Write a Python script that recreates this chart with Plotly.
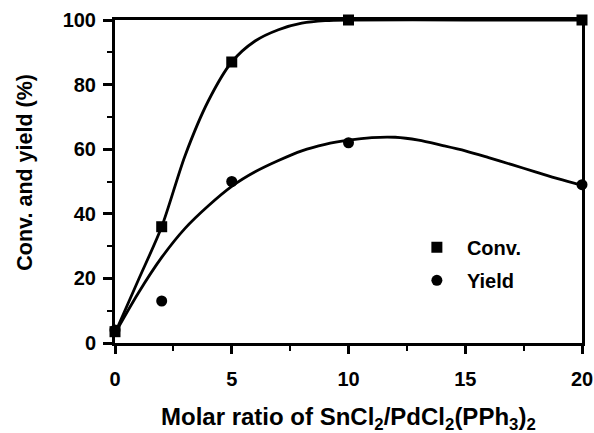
import plotly.graph_objects as go

# measured data points
ratio = [0, 2, 5, 10, 20]
conv = [3.5, 36, 87, 100, 100]
yield_pct = [4, 13, 50, 62, 49]

# fitted curves
conv_curve_x = [0, 1, 2, 3, 4, 5, 6, 7, 8, 9, 10, 15, 20]
conv_curve_y = [3, 19.5, 36, 58, 75, 87, 93.5, 97, 99, 99.8, 100, 100, 100]
yield_curve_x = [0, 1, 2, 3, 4, 5, 6, 7, 8, 9, 10, 11, 12, 13, 14, 15, 16, 17, 18, 19, 20]
yield_curve_y = [3, 15.5, 26.5, 35.5, 42.5, 48.5, 53, 56.5, 59.5, 61.5, 62.8, 63.6, 63.7,
                 62.8, 61.2, 59.5, 57.4, 55.2, 53, 50.8, 48.8]

x_ticks = [0, 5, 10, 15, 20]
y_ticks = [0, 20, 40, 60, 80, 100]

FONT = "Liberation Sans, Arial, Helvetica, sans-serif"

fig = go.Figure()
fig.add_trace(go.Scatter(x=conv_curve_x, y=conv_curve_y, mode="lines",
                         line=dict(color="black", width=2.8, shape="spline", smoothing=0.8),
                         showlegend=False, cliponaxis=False, hoverinfo="skip"))
fig.add_trace(go.Scatter(x=yield_curve_x, y=yield_curve_y, mode="lines",
                         line=dict(color="black", width=2.8, shape="spline", smoothing=0.8),
                         showlegend=False, cliponaxis=False, hoverinfo="skip"))
fig.add_trace(go.Scatter(x=ratio, y=conv, mode="markers", name="Conv.",
                         legendgroup="a",
                         marker=dict(symbol="square", size=11, color="black"),
                         cliponaxis=False))
fig.add_trace(go.Scatter(x=ratio, y=yield_pct, mode="markers", name="Yield",
                         legendgroup="b",
                         marker=dict(symbol="circle", size=11, color="black"),
                         cliponaxis=False))

fig.update_layout(
    width=594, height=433,
    margin=dict(l=115, r=12, t=20, b=90, autoexpand=False),
    plot_bgcolor="white", paper_bgcolor="white",
    font=dict(family=FONT, size=20, color="black"),
    showlegend=True,
    legend=dict(x=0.625, y=0.245, xanchor="left", yanchor="middle",
                traceorder="grouped", itemwidth=50, tracegroupgap=4,
                font=dict(family=FONT, size=20, color="black", weight="bold"),
                bgcolor="rgba(0,0,0,0)"),
    xaxis=dict(range=[0, 20], tickvals=x_ticks, ticktext=[str(v) for v in x_ticks],
               automargin=False,
               showgrid=False, zeroline=False, showline=True, linewidth=3, linecolor="black",
               mirror=True, ticks="outside", ticklen=8, tickwidth=2.5, tickcolor="black",
               ticklabelstandoff=8,
               tickfont=dict(family=FONT, size=20, weight="bold"),
               minor=dict(dtick=2.5, tick0=0, ticks="outside", ticklen=5, tickwidth=2,
                          tickcolor="black", showgrid=False)),
    yaxis=dict(range=[0, 100], tickvals=y_ticks, ticktext=[str(v) for v in y_ticks],
               automargin=False,
               showgrid=False, zeroline=False, showline=True, linewidth=3, linecolor="black",
               mirror=True, ticks="outside", ticklen=9, tickwidth=2.5, tickcolor="black",
               ticklabelstandoff=3,
               tickfont=dict(family=FONT, size=20, weight="bold"),
               minor=dict(dtick=10, tick0=0, ticks="outside", ticklen=5, tickwidth=2,
                          tickcolor="black", showgrid=False)),
    annotations=[
        dict(text="Molar ratio of SnCl<sub>2</sub>/PdCl<sub>2</sub>(PPh<sub>3</sub>)<sub>2</sub>",
             xref="paper", yref="paper", x=0.499, y=-0.235, xanchor="center", yanchor="middle",
             showarrow=False, font=dict(family=FONT, size=24, weight="bold")),
        dict(text="Conv. and yield (%)", xref="paper", yref="paper",
             x=-0.193, y=0.53, xanchor="center", yanchor="middle", textangle=-90,
             showarrow=False, font=dict(family=FONT, size=21.5, weight="bold")),
    ],
)

fig.write_html("out.html", config={"displayModeBar": False},
               post_script="document.body.style.margin='0';document.body.style.overflow='hidden';")
